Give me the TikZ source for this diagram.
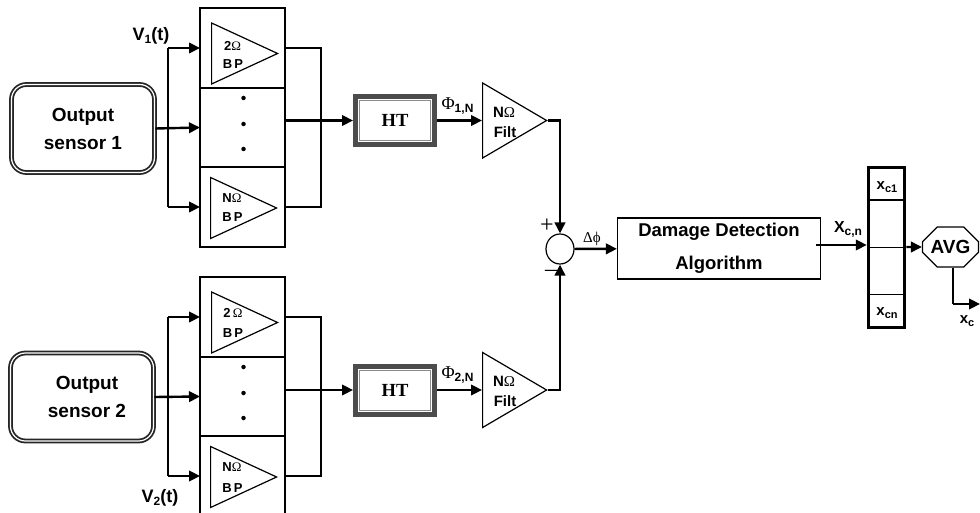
\documentclass[tikz,border=0pt]{standalone}
\usepackage{fontspec}
\setmainfont{Liberation Sans}
\newfontfamily\serifface{Liberation Serif}
\usetikzlibrary{arrows.meta,shapes.geometric,shapes.misc}
\newcommand{\fsz}[1]{\fontsize{#1}{#1}\selectfont}
\newcommand{\lowtext}[2]{\raisebox{-3pt}{\fsz{#1}#2}}
\tikzset{
  sig/.style={line width=2.4pt, -{Triangle[length=11pt,width=10.5pt]}},
  wire/.style={line width=2.4pt},
  cell/.style={draw, line width=1.2pt, minimum width=85pt, inner sep=0pt, outer sep=0pt},
  sensor/.style={draw=black!85, line width=1.8pt, double=white, double distance=1.2pt, rounded corners=15pt,
    minimum width=143pt, minimum height=88pt, align=center, font=\bfseries\fsz{19}, text depth=0pt},
  amp/.style={draw, fill=white, line width=1.2pt, isosceles triangle, isosceles triangle stretches, inner sep=0pt,
    anchor=lower side, minimum width=61pt, minimum height=66pt},
  filt/.style={amp, minimum width=75pt, minimum height=64pt},
  htouter/.style={draw=black!70, line width=5pt, minimum width=79pt, minimum height=48pt},
  htinner/.style={draw=black!45, line width=.8pt, fill=white, minimum width=71pt, minimum height=40pt,
    font=\serifface\bfseries\fsz{18.5}},
  dot/.style={circle, fill, inner sep=0pt, minimum size=4.5pt},
  small/.style={font=\bfseries\fsz{13}, inner sep=0pt},
  big/.style={font=\bfseries\fsz{15}, inner sep=0pt},
  vlab/.style={font=\bfseries\fsz{18}, inner sep=0pt}
}
\begin{document}
\begin{tikzpicture}[x=1pt, y=-1pt]
  \useasboundingbox (0,0) rectangle (980,513);

  % first channel
  \node [sensor] (sensor1) at (83,128.5) {Output\\[9pt]sensor 1};
  \node [cell, minimum height=80pt] (bpa1) at (242.5,48) {};
  \node [cell, minimum height=79pt] (bpb1) at (242.5,127.5) {};
  \node [cell, minimum height=80pt] (bpc1) at (242.5,207) {};
  \node [amp] (tria1) at (211,53.5) {};
  \node [amp] (tric1) at (210,208) {};
  \node [small] (wa1) at (232.5,46) {2{\serifface\fontseries{m}\selectfont Ω}};
  \node [small] (ba1) at (233,64.5) {B\,P};
  \node [small] (wc1) at (232,198) {N{\serifface\fontseries{m}\selectfont Ω}};
  \node [small] (bc1) at (232.5,217) {B\,P};
  \node [dot] (da1) at (243.5,98) {};
  \node [dot] (db1) at (243.5,124) {};
  \node [dot] (dc1) at (243.5,149) {};
  \node [vlab] (v1) at (151,36) {V\lowtext{12}{1}(t)};
  \coordinate (bus1a) at (168,48);
  \coordinate (bus1c) at (168,207);
  \coordinate (join1) at (321,120.5);
  \node [htouter] (ht1) at (395,120.5) {};
  \node [htinner] (htin1) at (395,120.5) {HT};
  \node [filt] (filt1) at (482,120.5) {};
  \node [big] (wf1) at (504,112) {N{\serifface\fontseries{m}\selectfont Ω}};
  \node [big] (bf1) at (505,132) {Filt};
  \node [inner sep=0pt] (phi1) at (457.5,106) {{\serifface\fsz{18}Φ}\lowtext{12}{\bfseries 1,N}};

  % second channel
  \node [sensor] (sensor2) at (82,397) {\hspace*{10pt}Output\\[9pt]\hspace*{10pt}sensor 2};
  \node [cell, minimum height=80pt] (bpa2) at (242.5,317) {};
  \node [cell, minimum height=79pt] (bpb2) at (242.5,396.5) {};
  \node [cell, minimum height=80pt] (bpc2) at (242.5,476) {};
  \node [amp] (tria2) at (211,322.5) {};
  \node [amp] (tric2) at (210,477) {};
  \node [small] (wa2) at (233,313) {2\,{\serifface\fontseries{m}\selectfont Ω}};
  \node [small] (ba2) at (233,333.5) {B\,P};
  \node [small] (wc2) at (232,467) {N{\serifface\fontseries{m}\selectfont Ω}};
  \node [small] (bc2) at (232.5,488) {B\,P};
  \node [dot] (da2) at (243.5,367) {};
  \node [dot] (db2) at (243.5,393) {};
  \node [dot] (dc2) at (243.5,418) {};
  \node [vlab] (v2) at (160,498) {V\lowtext{12}{2}(t)};
  \coordinate (bus2a) at (168,317);
  \coordinate (bus2c) at (168,476);
  \coordinate (join2) at (321,390);
  \node [htouter] (ht2) at (395,390) {};
  \node [htinner] (htin2) at (395,390) {HT};
  \node [filt] (filt2) at (482,390) {};
  \node [big] (wf2) at (504,381) {N{\serifface\fontseries{m}\selectfont Ω}};
  \node [big] (bf2) at (505,401) {Filt};
  \node [inner sep=0pt] (phi2) at (457.5,375) {{\serifface\fsz{18}Φ}\lowtext{12}{\bfseries 2,N}};

  % comparison and output
  \node [draw, ellipse, line width=1.2pt, minimum width=28pt, minimum height=30pt, inner sep=0pt] (sum) at (560,249) {};
  \node [inner sep=0pt, font=\serifface\fsz{24}] (plus) at (547,226) {+};
  \node [inner sep=0pt, font=\serifface\fsz{24}] (minus) at (551,273) {–};
  \node [inner sep=0pt, font=\serifface\fsz{15}] (dphi) at (592,239) {Δϕ};
  \node [draw, line width=1.2pt, minimum width=203pt, minimum height=61pt, align=center, font=\bfseries\fsz{18.5}] (damage) at (719,248.5) {Damage Detection\\[15pt]Algorithm};
  \coordinate (damout) at (816,245);
  \node [inner sep=0pt] (xn) at (848,229) {{\bfseries\fsz{16}X}\lowtext{12}{\bfseries c,n}};
  \node [draw, line width=3.5pt, minimum width=36pt, minimum height=160pt, inner sep=0pt] (stack) at (886.5,247.5) {};
  \node [inner sep=0pt] (x1) at (887,187) {{\bfseries\fsz{15}x}\lowtext{11}{\bfseries c1}};
  \node [inner sep=0pt] (xm) at (887,313) {{\bfseries\fsz{15}x}\lowtext{11}{\bfseries cn}};
  \node [draw, chamfered rectangle, chamfered rectangle xsep=8pt, chamfered rectangle ysep=8pt, line width=1.2pt,
    minimum width=56pt, minimum height=40pt, inner sep=0pt, font=\bfseries\fsz{19}] (avg) at (950.5,247) {AVG};
  \coordinate (avgout) at (953,304);
  \coordinate (avgend) at (980,304);
  \node [inner sep=0pt] (xc) at (967,321) {{\bfseries\fsz{15}x}\lowtext{11}{\bfseries c}};

  \draw [line width=1.5pt] (stack.north west |- 0,200) -- (stack.north east |- 0,200);
  \draw [line width=1pt] (stack.west) -- (stack.east);
  \draw [line width=1pt] (stack.north west |- 0,294) -- (stack.north east |- 0,294);

  % connectors of the first channel
  \draw [line width=1.8pt] (bus1a) -- (bus1c);
  \draw [sig] (bus1a) -- (bpa1.west);
  \draw [sig] (sensor1.east) -- (bpb1.west);
  \draw [sig] (bus1c) -- (bpc1.west);
  \draw [wire] (bpa1.east) -| (join1);
  \draw [wire] (bpc1.east) -| (join1);
  \draw [sig] (bpb1.east |- ht1) -- (ht1);
  \draw [sig] (ht1) -- (filt1.lower side);
  \draw [sig] (filt1.apex) -| (sum.north);

  % connectors of the second channel
  \draw [line width=1.8pt] (bus2a) -- (bus2c);
  \draw [sig] (bus2a) -- (bpa2.west);
  \draw [sig] (sensor2.east) -- (bpb2.west);
  \draw [sig] (bus2c) -- (bpc2.west);
  \draw [wire] (bpa2.east) -| (join2);
  \draw [wire] (bpc2.east) -| (join2);
  \draw [sig] (bpb2.east |- ht2) -- (ht2);
  \draw [sig] (ht2) -- (filt2.lower side);
  \draw [sig] (filt2.apex) -| (sum.south);

  \draw [sig] (sum) -- (damage);
  \draw [sig] (damout) -- (damout -| stack.west);
  \draw [sig] (stack.east |- avg) -- (avg);
  \draw [line width=1.5pt] (avg.south -| avgout) -- (avgout);
  \draw [sig] (avgout) -- (avgend);
\end{tikzpicture}
\end{document}
